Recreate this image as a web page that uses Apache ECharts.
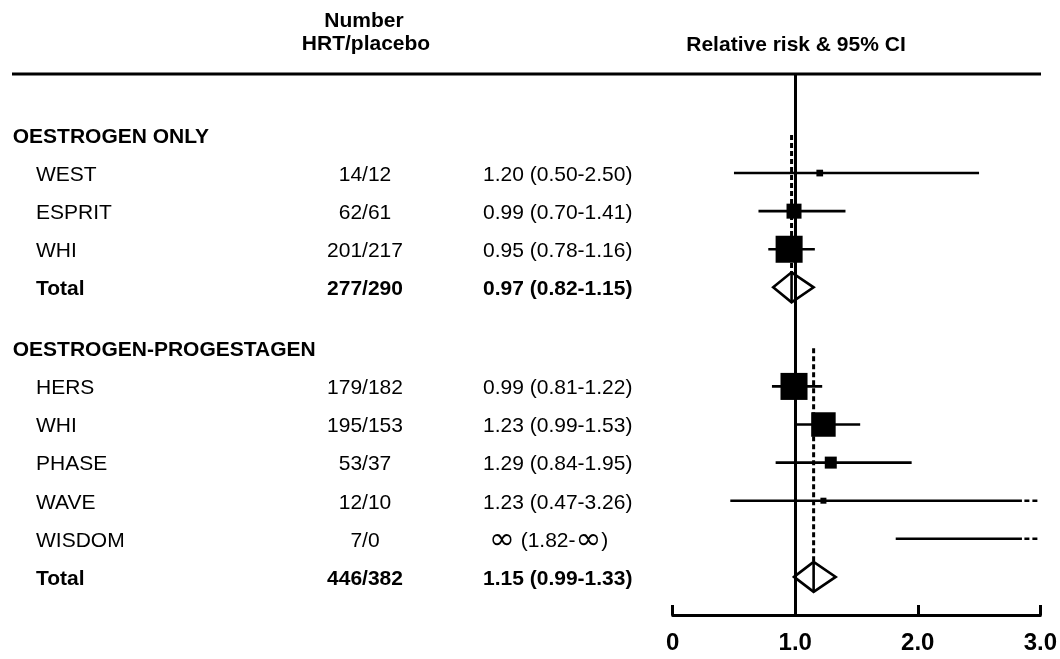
<!DOCTYPE html>
<html><head><meta charset="utf-8">
<script src="https://cdn.jsdelivr.net/npm/echarts@6/dist/echarts.min.js"></script>
<style>html,body{margin:0;padding:0;background:#fff}#c{width:1060px;height:659px}</style>
</head><body><div id="c"></div>
<script>
// ---------------- data ----------------
const groupNames = ["OESTROGEN ONLY", "OESTROGEN-PROGESTAGEN"];
const studies    = ["WEST", "ESPRIT", "WHI", "Total", "HERS", "WHI", "PHASE", "WAVE", "WISDOM", "Total"];
const studyGroup = [0, 0, 0, 0, 1, 1, 1, 1, 1, 1];
const isTotal    = [false, false, false, true, false, false, false, false, false, true];
const counts     = ["14/12", "62/61", "201/217", "277/290", "179/182", "195/153", "53/37", "12/10", "7/0", "446/382"];
const rrLabels   = ["1.20 (0.50-2.50)", "0.99 (0.70-1.41)", "0.95 (0.78-1.16)", "0.97 (0.82-1.15)",
                    "0.99 (0.81-1.22)", "1.23 (0.99-1.53)", "1.29 (0.84-1.95)", "1.23 (0.47-3.26)",
                    "\u221E (1.82-\u221E)", "1.15 (0.99-1.33)"];
const rr         = [1.20, 0.99, 0.95, 0.97, 0.99, 1.23, 1.29, 1.23, Infinity, 1.15];
const ciLow      = [0.50, 0.70, 0.78, 0.82, 0.81, 0.99, 0.84, 0.47, 1.82, 0.99];
const ciHigh     = [2.50, 1.41, 1.16, 1.15, 1.22, 1.53, 1.95, 3.26, Infinity, 1.33];
const weights    = [4.5, 22.5, 73, null, 73, 60, 14.4, 3.6, 0, null];
const xTickLabels = ["0", "1.0", "2.0", "3.0"];
const headerCounts = ["Number", "HRT/placebo"];
const headerRR = "Relative risk & 95% CI";

// ---------------- layout ----------------
const FONT = '"Liberation Sans", Arial, Helvetica, sans-serif';
const NARROW = '"Liberation Sans Narrow", "Liberation Sans", Arial, sans-serif';
const X_MIN = 0, X_MAX = 3;
const GROUP_GAP = 1.6;
const TEXT_DY = 2;
const headerRow = [];
const studyRow = [];
let r = 0;
groupNames.forEach((g, gi) => {
  headerRow[gi] = r;
  studies.forEach((s, i) => { if (studyGroup[i] === gi) { r += 1; studyRow[i] = r; } });
  r += GROUP_GAP;
});

const tableItems = [];
groupNames.forEach((g, gi) => {
  tableItems.push({ type: 'header', row: headerRow[gi], name: g });
  studies.forEach((s, i) => { if (studyGroup[i] === gi) tableItems.push({ type: 'study', row: studyRow[i], idx: i }); });
});

const COL_HEADER_X = 12.7, COL_NAME_X = 36, COL_COUNT_X = 365, COL_RR_X = 483, INF_INDENT = 6;

function txt(x, y, text, bold, align) {
  return { type: 'text', x: x, y: y,
    style: { text: text, fill: '#000', font: (bold ? 'bold ' : '') + '21px ' + FONT,
             align: align, verticalAlign: 'middle' } };
}

function rrText(x, y, label, bold) {
  if (label.indexOf('\u221E') < 0) return txt(x, y, label, bold, 'left');
  const parts = label.split('\u221E');
  let rich = '';
  parts.forEach((p, k) => {
    if (p) rich += '{t|' + p + '}';
    if (k < parts.length - 1) rich += '{inf|\u221E}';
  });
  return { type: 'text', x: x + INF_INDENT, y: y,
    style: { text: rich, fill: '#000', align: 'left', verticalAlign: 'middle',
      rich: {
        t:   { fontFamily: FONT, fontSize: 21, fontWeight: bold ? 'bold' : 'normal', verticalAlign: 'middle', lineHeight: 28 },
        inf: { fontFamily: '"DejaVu Sans", sans-serif', fontSize: 31, verticalAlign: 'middle', lineHeight: 28 }
      } } };
}

function renderTable(params, api) {
  const it = tableItems[params.dataIndex];
  const y = api.coord([X_MIN, it.row])[1] + TEXT_DY;
  const ch = [];
  if (it.type === 'header') {
    ch.push(txt(COL_HEADER_X, y, it.name, true, 'left'));
  } else {
    const i = it.idx, b = isTotal[i];
    ch.push(txt(COL_NAME_X, y, studies[i], b, 'left'));
    ch.push(txt(COL_COUNT_X, y, counts[i], b, 'center'));
    ch.push(rrText(COL_RR_X, y, rrLabels[i], b));
  }
  return { type: 'group', children: ch };
}

const LW = 2.6;
function seg(x1, y1, x2, y2, dash, w) {
  return { type: 'line', shape: { x1: x1, y1: y1, x2: x2, y2: y2 },
           style: { stroke: '#000', lineWidth: w || LW, lineDash: dash || null } };
}

function renderForest(params, api) {
  const i = params.dataIndex;
  const y = api.coord([X_MIN, studyRow[i]])[1];
  const ch = [];
  if (isTotal[i]) {
    const xl = api.coord([ciLow[i], 0])[0];
    const xc = api.coord([rr[i], 0])[0];
    const xr = api.coord([ciHigh[i], 0])[0];
    const h = 15;
    const yTop = api.coord([X_MIN, headerRow[studyGroup[i]]])[1];
    ch.push(seg(xc, yTop, xc, y - h, [5, 3], 3));
    ch.push({ type: 'polygon', shape: { points: [[xl, y], [xc, y - h], [xr, y], [xc, y + h]] },
              style: { fill: 'none', stroke: '#000', lineWidth: 2.6 } });
    ch.push(seg(xc, y - h, xc, y + h, null, 2.6));
  } else {
    const truncated = ciHigh[i] > X_MAX;
    const hiSolid = truncated ? X_MAX - 0.15 : ciHigh[i];
    const x1 = api.coord([ciLow[i], 0])[0];
    const x2 = api.coord([hiSolid, 0])[0];
    ch.push(seg(x1, y, x2, y));
    if (truncated) {
      ch.push(seg(api.coord([X_MAX - 0.13, 0])[0], y, api.coord([X_MAX, 0])[0], y, [5, 3]));
    }
    if (isFinite(rr[i]) && weights[i] > 0) {
      const xc = api.coord([rr[i], 0])[0];
      const side = Math.sqrt(weights[i] * 10);
      ch.push({ type: 'rect', shape: { x: xc - side / 2, y: y - side / 2, width: side, height: side },
                style: { fill: '#000' } });
    }
  }
  return { type: 'group', children: ch };
}

const chart = echarts.init(document.getElementById('c'), null, { renderer: 'canvas' });
chart.setOption({
  animation: false,
  backgroundColor: '#fff',
  grid: { left: 672.7, right: 19.3, top: 74, bottom: 44, containLabel: false },
  xAxis: {
    type: 'value', min: X_MIN, max: X_MAX, interval: 1, position: 'bottom',
    axisLine: { show: true, onZero: false, lineStyle: { color: '#000', width: 3 } },
    axisTick: { show: true, inside: true, length: 10, lineStyle: { color: '#000', width: 3 } },
    splitLine: { show: false },
    axisLabel: { margin: 16, color: '#000', fontFamily: NARROW, fontWeight: 'bold', fontSize: 24,
                 formatter: v => xTickLabels[Math.round(v)] }
  },
  yAxis: { type: 'value', inverse: true, min: -1.6, max: 12.6, show: false,
           axisLine: { onZero: false }, splitLine: { show: false } },
  graphic: [
    { type: 'line', shape: { x1: 12, y1: 74, x2: 1041, y2: 74 }, style: { stroke: '#000', lineWidth: 3 } },
    { type: 'text', x: 364, y: 21.7, style: { text: headerCounts[0], font: 'bold 21px ' + FONT, fill: '#000', align: 'center', verticalAlign: 'middle' } },
    { type: 'text', x: 366, y: 44.5, style: { text: headerCounts[1], font: 'bold 21px ' + FONT, fill: '#000', align: 'center', verticalAlign: 'middle' } },
    { type: 'text', x: 796, y: 45, style: { text: headerRR, font: 'bold 21px ' + FONT, fill: '#000', align: 'center', verticalAlign: 'middle' } }
  ],
  series: [
    {
      type: 'custom', name: 'forest', renderItem: renderForest, clip: false, silent: true,
      encode: { x: 0, y: 1 },
      data: studies.map((s, i) => [isFinite(rr[i]) ? rr[i] : ciLow[i], studyRow[i]]),
      markLine: { silent: true, symbol: ['none', 'none'], label: { show: false },
                  lineStyle: { color: '#000', width: 3, type: 'solid' },
                  data: [{ xAxis: 1 }] },
      z: 3
    },
    {
      type: 'custom', name: 'table', renderItem: renderTable, clip: false, silent: true,
      encode: { x: 0, y: 1 },
      data: tableItems.map(t => [X_MIN, t.row]),
      z: 4
    }
  ]
});
</script>
</body></html>
